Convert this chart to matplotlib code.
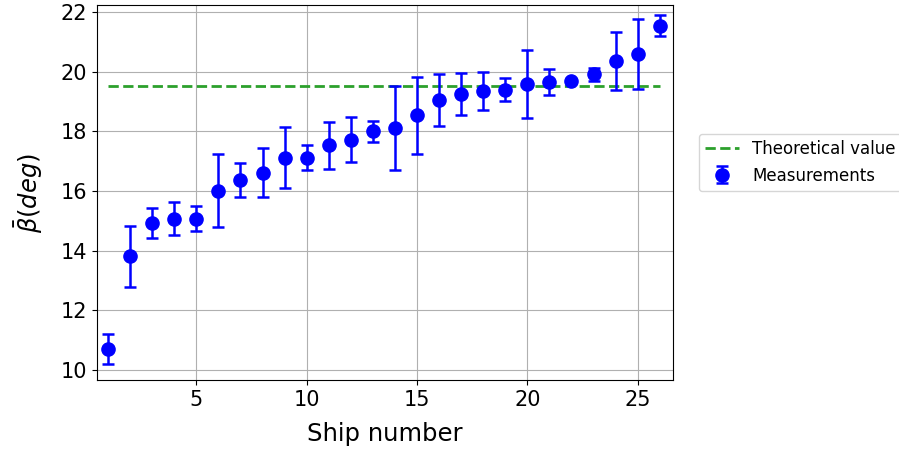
import numpy as np
import matplotlib
matplotlib.use("Agg")
import matplotlib.pyplot as plt

# values
ship = np.arange(1, 27)
beta_mean = [10.70, 13.81, 14.93, 15.07, 15.07, 16.01, 16.37, 16.61, 17.12, 17.12,
             17.53, 17.73, 18.00, 18.12, 18.54, 19.06, 19.25, 19.36, 19.41, 19.60,
             19.66, 19.71, 19.92, 20.38, 20.61, 21.56]
beta_err = [0.51, 1.03, 0.50, 0.56, 0.42, 1.23, 0.56, 0.82, 1.02, 0.42,
            0.79, 0.76, 0.35, 1.40, 1.28, 0.86, 0.71, 0.63, 0.39, 1.13,
            0.43, 0.05, 0.23, 0.97, 1.18, 0.35]
beta_theory = 19.52

fig = plt.figure(figsize=(8.99, 4.5), dpi=100)
ax = fig.add_axes([97 / 899, 70 / 450, 576 / 899, 375 / 450])

ax.plot([ship[0], ship[-1]], [beta_theory, beta_theory], '--', color='tab:green',
        lw=2, label='Theoretical value')
ax.errorbar(ship, beta_mean, yerr=beta_err, fmt='o', color='blue', ms=9.5,
            elinewidth=1.8, capsize=4, capthick=1.8, label='Measurements')

ax.set_xlim(0.5, 26.6)
ax.set_ylim(9.65, 22.25)
ax.set_xticks([5, 10, 15, 20, 25])
ax.set_yticks([10, 12, 14, 16, 18, 20, 22])
ax.tick_params(labelsize=15)
ax.grid(True)
ax.set_xlabel('Ship number', fontsize=17.5, labelpad=9)
ax.set_ylabel(r'$\bar{\beta}(deg)$', fontsize=17.5, labelpad=11)

ax.legend(loc='center left', bbox_to_anchor=(1.03, 0.58), fontsize=12)

fig.savefig('out.png', dpi=100)
